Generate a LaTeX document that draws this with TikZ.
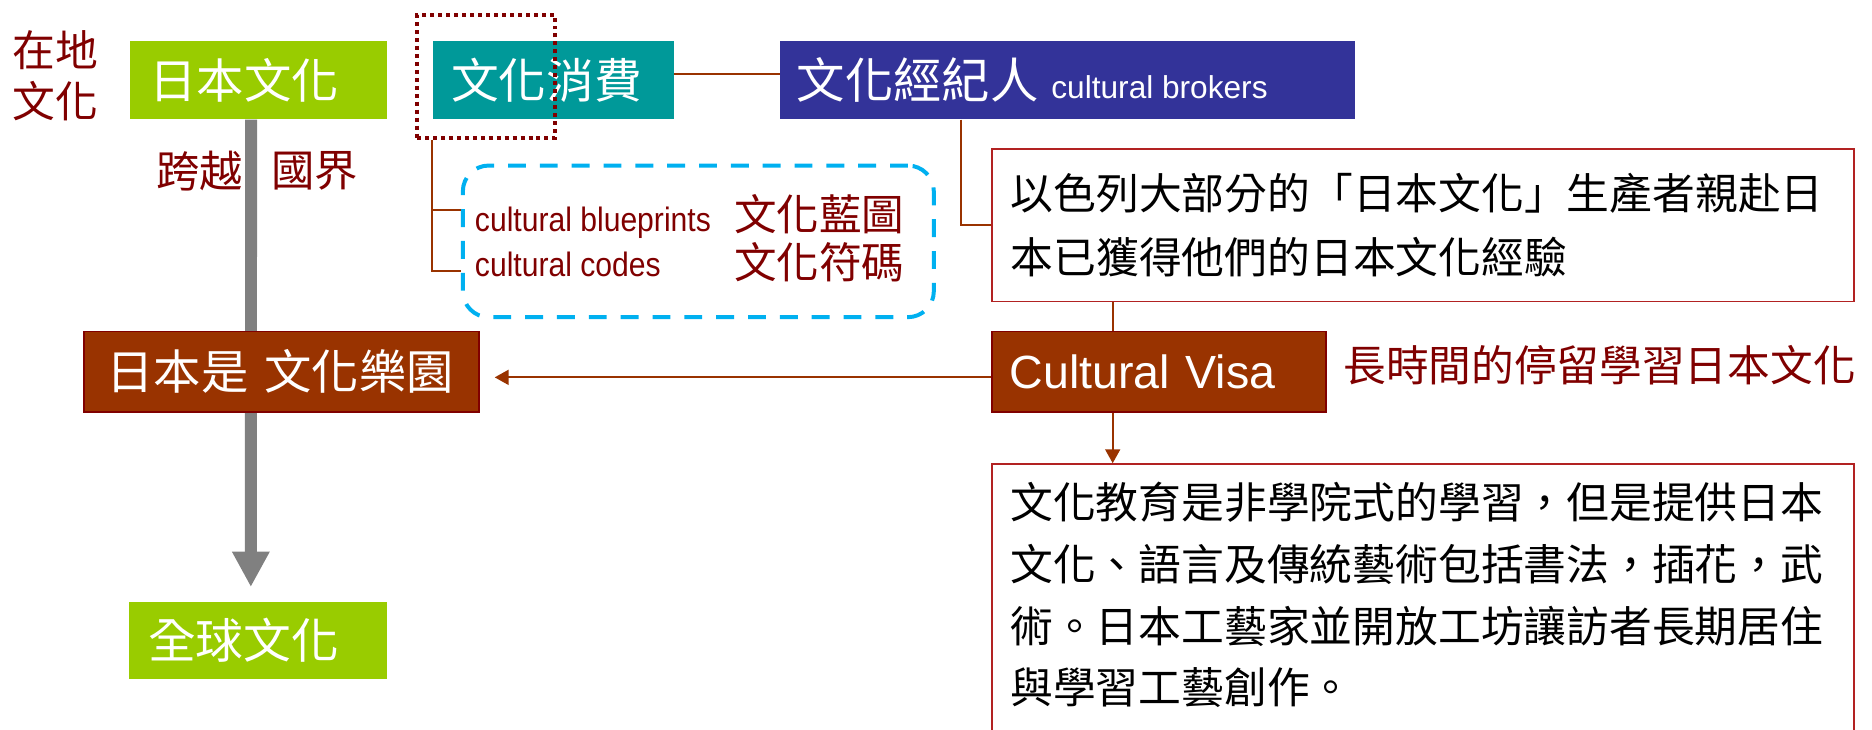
\documentclass[tikz,border=0pt]{standalone}
\usepackage{fontspec}
\setmainfont{Liberation Sans}
\newfontfamily\cjk{Noto Sans CJK TC}
\usetikzlibrary{arrows.meta}
\definecolor{cgreen}{HTML}{99CC00}
\definecolor{cteal}{HTML}{009999}
\definecolor{cpurple}{HTML}{333399}
\definecolor{cbrown}{HTML}{993300}
\definecolor{cdred}{HTML}{800000}
\definecolor{cborder}{HTML}{B22222}
\definecolor{ccyan}{HTML}{00B0F0}
\definecolor{cgray}{HTML}{808080}
\newcommand\fsz[1]{\fontsize{#1}{#1}\selectfont}
\begin{document}
\begin{tikzpicture}[x=0.6pt,y=-0.6pt,
  box/.style={anchor=north west, inner ysep=0pt, align=left},
  conn/.style={draw=cbrown, line width=1pt},
  tip/.style={-{Triangle[length=7pt,width=7.5pt]}},
  lbl/.style={inner sep=0pt, text=cdred},
]
\useasboundingbox (0,0) rectangle (1568,611);

% green boxes and the gray main arrow (behind the brown box)
\node[box, fill=cgreen, text=white, minimum width=129.3pt, minimum height=39.1pt,
  text width=109.5pt, inner xsep=9.9pt, font={\cjk\fsz{23.8pt}}] (g1) at (108.5,34.3) {日本文化};
\node[box, fill=cgreen, text=white, minimum width=129.6pt, minimum height=38.4pt,
  text width=110.8pt, inner xsep=9.4pt, font={\cjk\fsz{24pt}}] (g2) at (108,504) {全球文化};
\draw[cgray, line width=6pt, -{Triangle[length=17.8pt,width=17.7pt]}, shorten >=7.4pt]
  ([xshift=-3.75pt]g1.south) -- ([xshift=-3.75pt]g2.north);

% top row
\node[box, fill=cteal, text=white, minimum width=121.2pt, minimum height=39.1pt,
  text width=102.6pt, inner xsep=9.3pt, font={\cjk\fsz{24pt}}] (teal) at (362,34.3) {文化消費};
\node[box, fill=cpurple, text=white, minimum width=288.9pt, minimum height=39.1pt,
  text width=272.1pt, inner xsep=8.4pt, font={\cjk\fsz{24.3pt}}] (purple) at (653,34.3)
  {文化經紀人\hspace{6.5pt}{\rmfamily\fsz{15.9pt}cultural\hspace{4.4pt}brokers}};
\node[draw=cdred, line width=2pt, dash pattern=on 2pt off 2pt, anchor=north west,
  minimum width=69.5pt, minimum height=61.6pt, inner sep=0pt] (dotted) at (347.7,11.2) {};

% left labels
\node[lbl, align=center, font={\cjk\fontsize{21.5pt}{25.8pt}\selectfont}] (zaidi) at (46.4,63.5) {在地\\文化};
\node[lbl, font={\cjk\fsz{21.8pt}}] (kuayue) at (167.4,143) {跨越};
\node[lbl, font={\cjk\fsz{21.8pt}}] (guojie) at (263.7,143) {國界};

% dashed box with codes
\node[draw=ccyan, line width=2pt, dash pattern=on 9pt off 7pt, rounded corners=13pt,
  anchor=north west, minimum width=236.7pt, minimum height=76.2pt, inner sep=0pt] (codes) at (386,137) {};
\coordinate (br1) at (386,176);
\coordinate (br2) at (386,227);
\node[lbl, anchor=base west, font={\fsz{17pt}}] (bp) at (397.5,194) {\scalebox{0.89}[1]{cultural blueprints}};
\node[lbl, anchor=base west, font={\fsz{17pt}}] (cc) at (397.5,231.7) {\scalebox{0.89}[1]{cultural codes}};
\node[lbl, anchor=west, font={\cjk\fsz{21.4pt}}] (lantu) at (614.5,179) {文化藍圖};
\node[lbl, anchor=west, font={\cjk\fsz{21.4pt}}] (fuma) at (614.5,220) {文化符碼};
\draw[conn] ([xshift=8.3pt]dotted.south west) |- (br2);
\draw[conn] ([xshift=8.3pt]dotted.south west) |- (br1);

% right column
\node[box, draw=cborder, line width=0.8pt, fill=white, minimum width=433.2pt, minimum height=76.8pt,
  text width=414pt, inner xsep=9.6pt, font={\cjk\fontsize{21.5pt}{32.4pt}\selectfont}] (box1) at (830,124)
  {以色列大部分的「日本文化」生產者親赴日\\本已獲得他們的日本文化經驗};
\node[box, fill=cbrown, draw=cdred, line width=0.8pt, text=white, minimum width=168pt, minimum height=40.5pt,
  text width=150pt, inner xsep=9pt, font={\fsz{23.4pt}}] (cv) at (830,277) {Cultural Visa};
\node[lbl, anchor=west, font={\cjk\fsz{21.45pt}}] (stay) at (1125,306) {長時間的停留學習日本文化};
\node[box, draw=cborder, line width=0.8pt, minimum width=433.2pt, minimum height=151.2pt,
  inner sep=0pt] (box2) at (830,388) {};
\node[inner sep=0pt, anchor=west, align=left, font={\cjk\fontsize{21.5pt}{31pt}\selectfont}] (t2) at (846,498.5)
  {文化教育是非學院式的學習，但是提供日本\\文化、語言及傳統藝術包括書法，插花，武\\術。日本工藝家並開放工坊讓訪者長期居住\\與學習工藝創作。};

% middle left
\node[box, fill=cbrown, draw=cdred, line width=0.8pt, text=white, minimum width=198.5pt, minimum height=40.5pt,
  text width=175.9pt, inner xsep=11.3pt, font={\cjk\fsz{23.8pt}}] (jp) at (69.7,277) {日本是 文化樂園};

% connectors
\draw[conn] ([yshift=2.9pt]teal.east) -- ([yshift=2.9pt]purple.west);
\draw[conn] ([xshift=91.2pt]purple.south west) |- (box1.west);
\draw[conn] ([xshift=61.2pt]box1.south west) -- ([xshift=61.2pt]cv.north west);
\draw[conn, tip] ([xshift=61.2pt]cv.south west) -- ([xshift=61.2pt]box2.north west);
\draw[conn, tip, shorten >=7.5pt] ([yshift=-2.8pt]cv.west) -- ([yshift=-2.8pt]jp.east);
\end{tikzpicture}
\end{document}
